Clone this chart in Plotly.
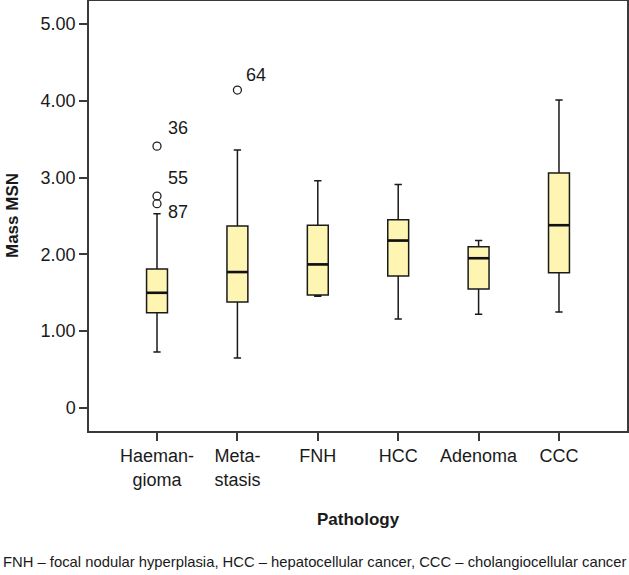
import plotly.graph_objects as go

categories = ["Haeman-<br>gioma", "Meta-<br>stasis", "FNH", "HCC", "Adenoma", "CCC"]
lower_whisker = [0.73, 0.65, 1.455, 1.16, 1.22, 1.25]
q1 = [1.24, 1.38, 1.47, 1.72, 1.55, 1.76]
median = [1.50, 1.77, 1.87, 2.18, 1.95, 2.38]
q3 = [1.81, 2.37, 2.38, 2.45, 2.10, 3.06]
upper_whisker = [2.53, 3.36, 2.96, 2.91, 2.18, 4.01]

outlier_group = [0, 0, 0, 1]
outlier_value = [3.41, 2.76, 2.66, 4.14]
outlier_label = ["36", "55", "87", "64"]

y_ticks = [0, 1, 2, 3, 4, 5]
y_ticklabels = ["0", "1.00", "2.00", "3.00", "4.00", "5.00"]

FONT = "Liberation Sans Narrow, Liberation Sans, Arial, sans-serif"
FILL = "#fff5b3"
BOX_W = 0.26
xs = list(range(len(categories)))

fig = go.Figure()
fig.add_trace(go.Box(
    x=xs, q1=q1, median=median, q3=q3,
    lowerfence=lower_whisker, upperfence=upper_whisker,
    fillcolor=FILL, line=dict(color="#1a1a1a", width=1.5),
    width=BOX_W, whiskerwidth=0.35, boxpoints=False, showlegend=False,
    hoverinfo="skip",
))
for i, m in zip(xs, median):
    fig.add_trace(go.Scatter(
        x=[i - BOX_W / 2, i + BOX_W / 2], y=[m, m], mode="lines",
        line=dict(color="#111111", width=2.6), showlegend=False, hoverinfo="skip",
    ))
fig.add_trace(go.Scatter(
    x=outlier_group, y=outlier_value, mode="markers",
    marker=dict(symbol="circle-open", size=8, color="#222222", line=dict(width=1.3)),
    showlegend=False, hoverinfo="skip",
))
label_shift = [(21, 18), (21, 18), (21, -8), (19, 15)]
for g, v, t, (dx, dy) in zip(outlier_group, outlier_value, outlier_label, label_shift):
    fig.add_annotation(x=g, y=v, text=t, showarrow=False, xshift=dx, yshift=dy,
                       font=dict(family=FONT, size=18, color="#1a1a1a"))

fig.add_annotation(xref="paper", yref="paper", x=0.5, y=0, yanchor="middle",
                   yshift=-88, showarrow=False, text="<b>Pathology</b>",
                   font=dict(family=FONT, size=17, color="#1a1a1a"))
fig.add_annotation(xref="paper", yref="paper", x=0, y=0.5, xanchor="center",
                   xshift=-77, showarrow=False, text="<b>Mass MSN</b>", textangle=-90,
                   font=dict(family=FONT, size=17, color="#1a1a1a"))
fig.add_annotation(
    xref="paper", yref="paper", x=0, y=0, xanchor="left", yanchor="middle",
    xshift=-88, yshift=-131, showarrow=False,
    text="FNH – focal nodular hyperplasia, HCC – hepatocellular cancer, CCC – cholangiocellular cancer",
    font=dict(family=FONT, size=14.8, color="#1a1a1a"),
)

axis_line = "#3a3a3a"
tickfont = dict(family=FONT, size=18, color="#1a1a1a")
fig.update_layout(
    width=629, height=575,
    margin=dict(l=89, r=2, t=1, b=144, autoexpand=False),
    paper_bgcolor="white", plot_bgcolor="white",
    font=dict(family=FONT, size=18, color="#1a1a1a"),
    xaxis=dict(
        range=[-0.846, 5.846], tickmode="array", tickvals=xs, ticktext=categories,
        tickfont=tickfont, automargin=False,
        showline=True, linecolor=axis_line, linewidth=1.5, mirror=True,
        ticks="outside", ticklen=8, tickwidth=1.5, tickcolor=axis_line,
        showgrid=False, zeroline=False,
    ),
    yaxis=dict(
        range=[-0.3, 5.3], tickmode="array", tickvals=y_ticks, ticktext=y_ticklabels,
        tickfont=tickfont, automargin=False,
        showline=True, linecolor=axis_line, linewidth=1.5, mirror=True,
        ticks="outside", ticklen=8, tickwidth=1.5, tickcolor=axis_line,
        showgrid=False, zeroline=False,
    ),
)

fig.write_html("out.html", config={"displayModeBar": False},
               post_script="document.body.style.margin='0';")
